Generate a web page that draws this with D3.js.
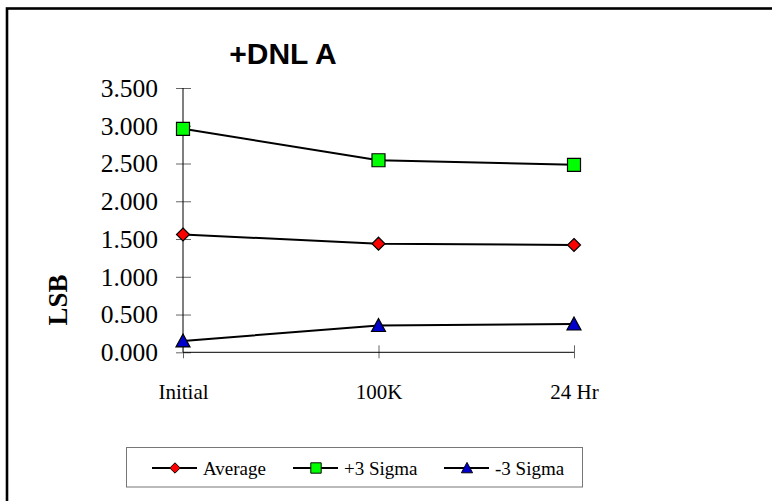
<!DOCTYPE html>
<html><head><meta charset="utf-8">
<script src="https://cdn.jsdelivr.net/npm/d3@7"></script>
<style>body{margin:0;background:#fff}svg{display:block}</style>
</head><body>
<svg id="c" width="772" height="501"></svg>
<script>
const categories = ["Initial", "100K", "24 Hr"];
const average = [1.560, 1.438, 1.421];
const plus3Sigma = [2.960, 2.543, 2.483];
const minus3Sigma = [0.150, 0.355, 0.375];
const yTicks = [0, 0.5, 1.0, 1.5, 2.0, 2.5, 3.0, 3.5];
const seriesNames = ["Average", "+3 Sigma", "-3 Sigma"];
const titleText = "+DNL A";
const yTitle = "LSB";

const series = [
  {name: seriesNames[0], values: average, shape: "diamond", fill: "#ff0000"},
  {name: seriesNames[1], values: plus3Sigma, shape: "square", fill: "#00ff00"},
  {name: seriesNames[2], values: minus3Sigma, shape: "triangle", fill: "#0000cc"}
];

const svg = d3.select("#c");
svg.append("rect").attr("x", 7).attr("y", 8.5).attr("width", 800).attr("height", 600)
  .attr("fill", "none").attr("stroke", "#000").attr("stroke-width", 2.6);

const x = d3.scalePoint().domain(categories).range([183, 574]);
const y = d3.scaleLinear().domain([0, 3.5]).range([352.3, 88]);

svg.append("text").attr("x", 283).attr("y", 64).attr("text-anchor", "middle")
  .attr("font-family", "Liberation Sans, Arial, sans-serif").attr("font-weight", "bold")
  .attr("font-size", 30).text(titleText);

// Y axis
const yAx = svg.append("g").attr("transform", "translate(183,0)")
  .call(d3.axisLeft(y).tickValues(yTicks).tickFormat(d3.format(".3f")).tickSize(7).tickPadding(18));
yAx.select(".domain").remove();
yAx.selectAll(".tick line").attr("x1", 8).attr("x2", -7).attr("stroke", "#666");
yAx.selectAll(".tick text").attr("font-family", "Liberation Serif, Times New Roman, serif")
  .attr("font-size", 25.5).attr("fill", "#000").attr("dy", "0.33em");
svg.append("line").attr("x1", 183).attr("x2", 183).attr("y1", y(3.5)).attr("y2", y(0)).attr("stroke", "#000");

// X axis
const xAx = svg.append("g").attr("transform", `translate(0,${y(0)})`)
  .call(d3.axisBottom(x).tickSize(6).tickPadding(26));
xAx.select(".domain").remove();
xAx.selectAll(".tick line").attr("y1", -7).attr("y2", 6).attr("stroke", "#666");
xAx.selectAll(".tick text").attr("font-family", "Liberation Serif, Times New Roman, serif")
  .attr("font-size", 21).attr("fill", "#000");
svg.append("line").attr("x1", 183).attr("x2", 574).attr("y1", y(0)).attr("y2", y(0)).attr("stroke", "#000");

svg.append("text").attr("transform", "translate(66.5,300) rotate(-90)").attr("text-anchor", "middle")
  .attr("font-family", "Liberation Serif, Times New Roman, serif").attr("font-weight", "bold")
  .attr("font-size", 27).text(yTitle);

function marker(g, shape, fill) {
  let p;
  if (shape === "diamond") p = "M0,-6.5L6.5,0L0,6.5L-6.5,0Z";
  else if (shape === "square") p = "M-6.5,-6.5H6.5V6.5H-6.5Z";
  else p = "M0,-7L7,6H-7Z";
  g.append("path").attr("d", p).attr("fill", fill).attr("stroke", "#000").attr("stroke-width", 1.2);
}

const line = d3.line().x((d, i) => x(categories[i])).y(d => y(d));
series.forEach(s => {
  svg.append("path").attr("d", line(s.values)).attr("fill", "none").attr("stroke", "#000").attr("stroke-width", 2);
});
series.forEach(s => {
  s.values.forEach((v, i) => {
    const g = svg.append("g").attr("transform", `translate(${x(categories[i])},${y(v)})`);
    marker(g, s.shape, s.fill);
  });
});

// Legend
svg.append("rect").attr("x", 126.5).attr("y", 447.5).attr("width", 456).attr("height", 39.5)
  .attr("fill", "#fff").attr("stroke", "#777").attr("stroke-width", 1);
const legX = [152, 293, 444];
series.forEach((s, i) => {
  const g = svg.append("g").attr("transform", `translate(${legX[i]},468)`);
  g.append("line").attr("x1", 0).attr("x2", 45).attr("stroke", "#000").attr("stroke-width", 2);
  const m = g.append("g").attr("transform", "translate(23,0) scale(0.8)");
  marker(m, s.shape, s.fill);
  g.append("text").attr("x", 51).attr("dy", "0.35em").attr("font-family", "Liberation Serif, Times New Roman, serif")
    .attr("font-size", 19).text(s.name);
});
</script>
</body></html>
